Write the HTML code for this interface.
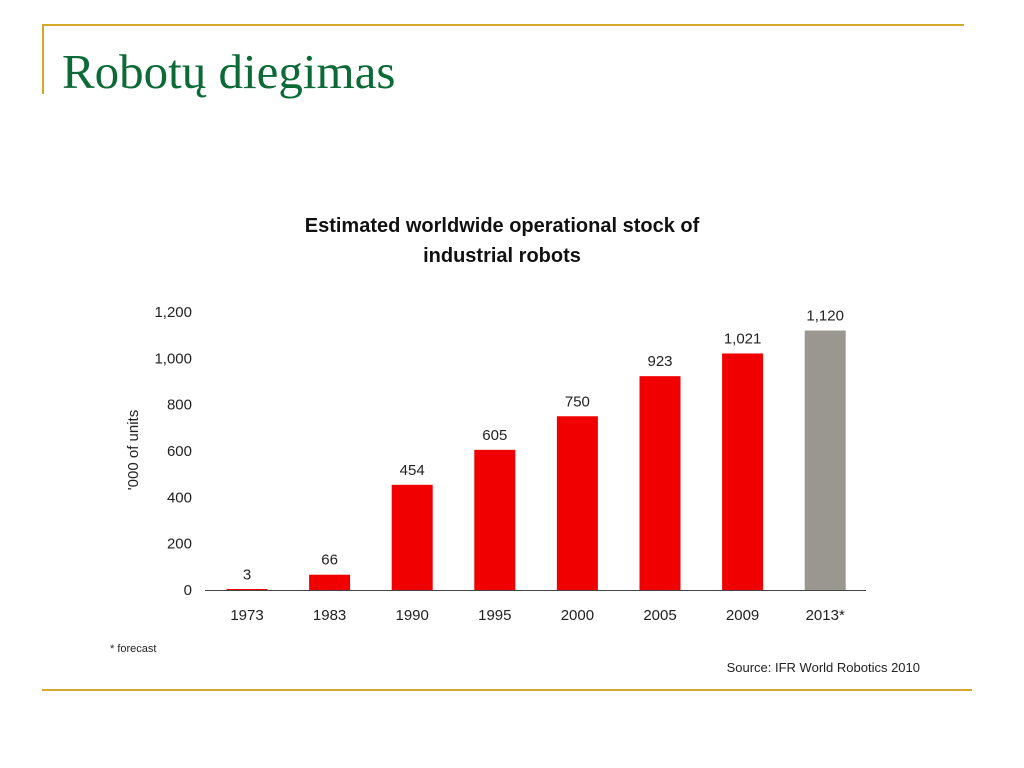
<!DOCTYPE html>
<html><head><meta charset="utf-8"><style>
body{margin:0;width:1024px;height:768px;background:#fff;overflow:hidden;position:relative;font-family:"Liberation Sans",sans-serif}
.abs{position:absolute}
</style></head><body>
<div class="abs" style="left:42px;top:24px;width:922px;height:2px;background:#d4a82a"></div>
<div class="abs" style="left:42px;top:24px;width:2px;height:70px;background:#d4a82a"></div>
<div class="abs" style="left:42px;top:689px;width:930px;height:2px;background:#d4a82a"></div>
<div class="abs" style="left:62px;top:42px;font-family:'Liberation Serif',serif;font-size:49px;color:#0b6a36;line-height:60px">Robotų diegimas</div>
<svg class="abs" style="left:0;top:0" width="1024" height="768">
<text x="502" y="232" text-anchor="middle" font-size="20" font-weight="bold" fill="#111">Estimated worldwide operational stock of</text>
<text x="502" y="262" text-anchor="middle" font-size="20" font-weight="bold" fill="#111">industrial robots</text>
<text transform="translate(138,450) rotate(-90)" text-anchor="middle" font-size="15" fill="#222">'000 of units</text>
<g id="yt"></g><g id="bars"></g>
<line x1="205" y1="590.5" x2="866" y2="590.5" stroke="#444" stroke-width="1"/>
<text x="110" y="652" font-size="11" fill="#222">* forecast</text>
<text x="920" y="672" text-anchor="end" font-size="13" fill="#222">Source: IFR World Robotics 2010</text>
</svg>
<script>
const categories=["1973","1983","1990","1995","2000","2005","2009","2013*"];
const values=[3,66,454,605,750,923,1021,1120];
const valueLabels=["3","66","454","605","750","923","1,021","1,120"];
const forecast=[false,false,false,false,false,false,false,true];
const yTicks=[0,200,400,600,800,1000,1200];
const yTickLabels=["0","200","400","600","800","1,000","1,200"];
const NS="http://www.w3.org/2000/svg";
const y=v=>590-v*(278/1200);
const x=i=>247+i*82.6;
const yt=document.getElementById('yt'),bg=document.getElementById('bars');
yTicks.forEach((t,i)=>{const e=document.createElementNS(NS,'text');


e.setAttribute('x',192);e.setAttribute('y',y(t)+5);e.setAttribute('text-anchor','end');e.setAttribute('font-size','15');e.setAttribute('fill','#222');e.textContent=yTickLabels[i];yt.appendChild(e);});
categories.forEach((c,i)=>{const r=document.createElementNS(NS,'rect');


const h=Math.max(1,590-y(values[i]));
r.setAttribute('x',x(i)-20.5);r.setAttribute('y',590-h);r.setAttribute('width',41);r.setAttribute('height',h);r.setAttribute('fill',forecast[i]?'#9a9690':'#f00000');bg.appendChild(r);
const v=document.createElementNS(NS,'text');


v.setAttribute('x',x(i));v.setAttribute('y',y(values[i])-10);v.setAttribute('text-anchor','middle');v.setAttribute('font-size','15');v.setAttribute('fill','#222');v.textContent=valueLabels[i];bg.appendChild(v);
const l=document.createElementNS(NS,'text');


l.setAttribute('x',x(i));l.setAttribute('y',620);l.setAttribute('text-anchor','middle');l.setAttribute('font-size','15');l.setAttribute('fill','#222');l.textContent=c;bg.appendChild(l);});
</script>
</body></html>
